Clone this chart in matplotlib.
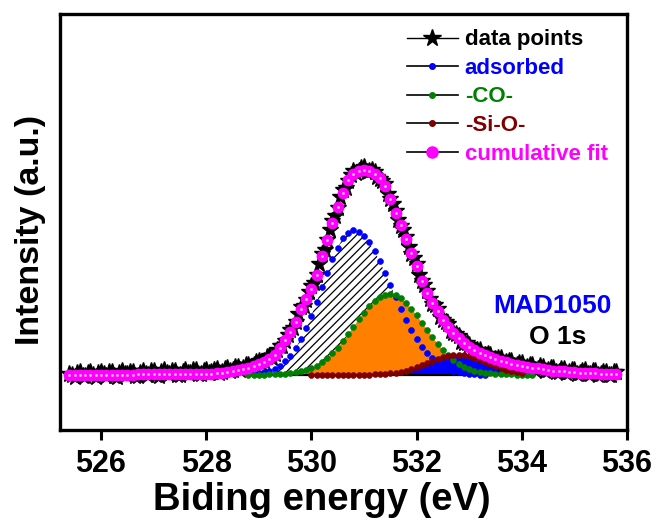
import matplotlib

matplotlib.use("Agg")

import matplotlib.pyplot as plt
import numpy as np
from matplotlib.lines import Line2D

# O 1s spectrum (baseline subtracted, peak of fit = 1)
data_start, data_stop = 525.4, 535.8
data_points = [
    0.006, -0.002, -0.010, 0.009, 0.015, -0.004, -0.005, 0.011, 0.013, 0.000, -0.008, 0.012,
    0.017, 0.004, -0.003, 0.014, 0.013, -0.006, -0.008, 0.010, 0.020, 0.005,
    0.003, 0.017, 0.016, -0.003, -0.005, 0.012, 0.020, 0.007, 0.001, 0.019,
    0.018, 0.002, -0.006, 0.014, 0.023, 0.010, 0.006, 0.021, 0.020, 0.001,
    -0.002, 0.017, 0.026, 0.012, 0.009, 0.024, 0.023, 0.006, 0.003, 0.020,
    0.026, 0.010, 0.013, 0.027, 0.028, 0.012, 0.014, 0.031, 0.034, 0.018,
    0.023, 0.038, 0.040, 0.027, 0.033, 0.047, 0.051, 0.038, 0.048, 0.062,
    0.067, 0.057, 0.070, 0.086, 0.093, 0.085, 0.102, 0.124, 0.140, 0.143,
    0.166, 0.197, 0.222, 0.228, 0.257, 0.299, 0.331, 0.338, 0.368, 0.404,
    0.432, 0.448, 0.486, 0.541, 0.591, 0.612, 0.657, 0.707, 0.752, 0.774,
    0.816, 0.866, 0.903, 0.912, 0.947, 0.975, 0.994, 0.984, 0.993, 1.010,
    1.013, 0.991, 0.997, 1.002, 0.992, 0.964, 0.956, 0.948, 0.931, 0.884,
    0.857, 0.836, 0.802, 0.755, 0.726, 0.708, 0.675, 0.624, 0.591, 0.572,
    0.541, 0.490, 0.457, 0.440, 0.412, 0.369, 0.346, 0.340, 0.321, 0.284,
    0.268, 0.261, 0.248, 0.214, 0.203, 0.201, 0.192, 0.160, 0.154, 0.156,
    0.148, 0.121, 0.120, 0.124, 0.121, 0.094, 0.098, 0.103, 0.100, 0.075,
    0.076, 0.085, 0.084, 0.059, 0.063, 0.070, 0.068, 0.046, 0.048, 0.058,
    0.059, 0.036, 0.040, 0.050, 0.049, 0.027, 0.029, 0.042, 0.040, 0.020,
    0.023, 0.035, 0.036, 0.014, 0.017, 0.030, 0.031, 0.010, 0.014, 0.027,
    0.026, 0.006, 0.008, 0.022, 0.024, 0.003, 0.007, 0.019, 0.020, -0.001,
    0.003, 0.016, 0.017, -0.002, 0.000, 0.013, 0.014,
]

fit_start, fit_stop = 525.4, 535.8
cumulative_fit = [
    0.000, 0.000, 0.001, 0.001, 0.001, 0.001,
    0.001, 0.001, 0.002, 0.002, 0.002, 0.002, 0.002, 0.003, 0.003, 0.003,
    0.003, 0.003, 0.004, 0.004, 0.004, 0.004, 0.005, 0.005, 0.005, 0.006,
    0.006, 0.007, 0.009, 0.011, 0.014, 0.018, 0.023, 0.029, 0.036, 0.045,
    0.055, 0.066, 0.080, 0.100, 0.130, 0.170, 0.210, 0.260, 0.320, 0.370,
    0.420, 0.490, 0.580, 0.660, 0.740, 0.820, 0.890, 0.950, 0.980, 0.995,
    1.000, 0.995, 0.980, 0.960, 0.920, 0.860, 0.790, 0.730, 0.665, 0.595,
    0.530, 0.460, 0.400, 0.350, 0.310, 0.270, 0.235, 0.205, 0.180, 0.155,
    0.135, 0.120, 0.107, 0.097, 0.087, 0.078, 0.070, 0.062, 0.055, 0.050,
    0.045, 0.040, 0.036, 0.032, 0.028, 0.025, 0.022, 0.020, 0.018, 0.016,
    0.014, 0.012, 0.011, 0.010, 0.008, 0.007, 0.006, 0.005, 0.004,
]

adsorbed_start, adsorbed_stop = 528.9, 533.3
adsorbed = [
    0.005,
    0.008, 0.013, 0.020, 0.031, 0.046, 0.067, 0.095, 0.131, 0.176, 0.229,
    0.290, 0.357, 0.428, 0.498, 0.565, 0.622, 0.667, 0.695, 0.705, 0.698,
    0.678, 0.647, 0.604, 0.554, 0.499, 0.440, 0.381, 0.324, 0.269, 0.220,
    0.176, 0.139, 0.107, 0.081, 0.060, 0.044, 0.031, 0.022, 0.015, 0.010,
    0.007, 0.004, 0.002, 0.001,
]

co_start, co_stop = 528.8, 534.2
co_peak = [
    0.000, 0.001,
    0.002, 0.002, 0.003, 0.004, 0.005, 0.007, 0.010, 0.013, 0.018, 0.025,
    0.034, 0.046, 0.063, 0.083, 0.107, 0.134, 0.166, 0.199, 0.235, 0.271,
    0.305, 0.336, 0.362, 0.381, 0.392, 0.395, 0.389, 0.374, 0.352, 0.324,
    0.291, 0.256, 0.221, 0.185, 0.153, 0.123, 0.097, 0.074, 0.056, 0.041,
    0.029, 0.022, 0.016, 0.012, 0.009, 0.007, 0.005, 0.004, 0.003, 0.002,
    0.001, 0.001, 0.000,
]

sio_start, sio_stop = 530.0, 534.0
sio_peak = [
    0.000, 0.000, 0.000, 0.000, 0.000, 0.001, 0.001, 0.001, 0.001, 0.001,
    0.001, 0.002, 0.003, 0.004, 0.005, 0.008, 0.011, 0.015, 0.020, 0.028,
    0.037, 0.047, 0.057, 0.068, 0.079, 0.088, 0.095, 0.099, 0.100, 0.098,
    0.092, 0.084, 0.075, 0.064, 0.053, 0.042, 0.033, 0.025, 0.018, 0.013,
    0.009,
]

legend_labels = ["data points", "adsorbed", "-CO-", "-Si-O-", "cumulative fit"]
legend_colors = ["black", "#0000ff", "#008000", "#800000", "#ff00ff"]
x_ticks = [526, 528, 530, 532, 534, 536]


def grid(start, stop, values):
    x = np.linspace(start, stop, len(values))
    return x, np.array(values)


plt.rcParams["font.family"] = ["Liberation Sans", "DejaVu Sans"]
plt.rcParams["font.weight"] = "bold"
plt.rcParams["hatch.linewidth"] = 0.9

fig = plt.figure(figsize=(6.57, 5.2), dpi=100)
ax = fig.add_axes([0.0913, 0.1731, 0.8630, 0.8000])

e_data, y_data = grid(data_start, data_stop, data_points)
e_fit, y_fit = grid(fit_start, fit_stop, cumulative_fit)
e_ads, y_ads = grid(adsorbed_start, adsorbed_stop, adsorbed)
e_co, y_co = grid(co_start, co_stop, co_peak)
e_sio, y_sio = grid(sio_start, sio_stop, sio_peak)

# filled components: hatch under orange under blue
ax.fill_between(e_ads, 0, y_ads, facecolor="white", edgecolor="black",
                hatch="////", linewidth=0, zorder=1)
ax.fill_between(e_co, 0, y_co, facecolor="#ff7f00", linewidth=0, zorder=2)
ax.fill_between(e_sio, 0, y_sio, facecolor="#0000ff", linewidth=0, zorder=3)
ax.hlines(0, e_co[0], e_co[-1], color="black", linewidth=1.6, zorder=3.5)

ax.plot(e_data, y_data, color="black", linewidth=1, marker="*",
        markersize=12.5, zorder=4)
for e, y, c in [(e_ads, y_ads, legend_colors[1]), (e_co, y_co, legend_colors[2]),
                (e_sio, y_sio, legend_colors[3])]:
    ax.plot(e, y, linestyle="none", marker="o", markersize=4.3, color=c,
            markeredgewidth=0.4, zorder=5)
ax.plot(e_fit, y_fit, linestyle="none", marker="o", markersize=8.5,
        color=legend_colors[4], markeredgewidth=0, zorder=6)
ax.plot(e_fit, y_fit, linestyle="none", marker="o", markersize=2.0,
        color="#ffc4ff", markeredgewidth=0, zorder=7)

ax.set_xlim(525.22, 536.0)
ax.set_ylim(-0.268, 1.761)
ax.set_xticks(x_ticks)
ax.set_yticks([])
ax.tick_params(axis="x", direction="out", length=7, width=2.2, pad=7,
               labelsize=22)
for spine in ax.spines.values():
    spine.set_linewidth(2.4)

ax.set_xlabel("Biding energy (eV)", fontsize=27.5, fontweight="bold")
ax.set_ylabel("Intensity (a.u.)", fontsize=24.5, fontweight="bold")
ax.xaxis.set_label_coords(0.462, -0.125)
ax.yaxis.set_label_coords(-0.024, 0.481)

handles = [
    Line2D([], [], color="black", linewidth=1, marker="*", markersize=13),
    Line2D([], [], color="black", linewidth=1.2, marker="o", markersize=4,
           markerfacecolor=legend_colors[1], markeredgecolor=legend_colors[1]),
    Line2D([], [], color="black", linewidth=1.2, marker="o", markersize=4,
           markerfacecolor=legend_colors[2], markeredgecolor=legend_colors[2]),
    Line2D([], [], color="black", linewidth=1.2, marker="o", markersize=4,
           markerfacecolor=legend_colors[3], markeredgecolor=legend_colors[3]),
    Line2D([], [], color="black", linewidth=1.2, marker="o", markersize=8,
           markerfacecolor=legend_colors[4], markeredgecolor=legend_colors[4]),
]
leg = ax.legend(handles, legend_labels, loc="upper right",
                bbox_to_anchor=(0.966, 0.963), frameon=False, borderpad=0,
                borderaxespad=0, handlelength=2.3, handletextpad=0.3,
                labelspacing=0.34, prop={"size": 16, "weight": "bold"})
for text, color in zip(leg.get_texts(), legend_colors):
    text.set_color(color)

ax.text(0.869, 0.298, "MAD1050", transform=ax.transAxes, ha="center",
        va="center", fontsize=19, fontweight="bold", color="#0000ff")
ax.text(0.877, 0.224, "O 1s", transform=ax.transAxes, ha="center",
        va="center", fontsize=19, fontweight="bold", color="black")

fig.savefig("out.png", dpi=100, facecolor="white")
plt.close(fig)
